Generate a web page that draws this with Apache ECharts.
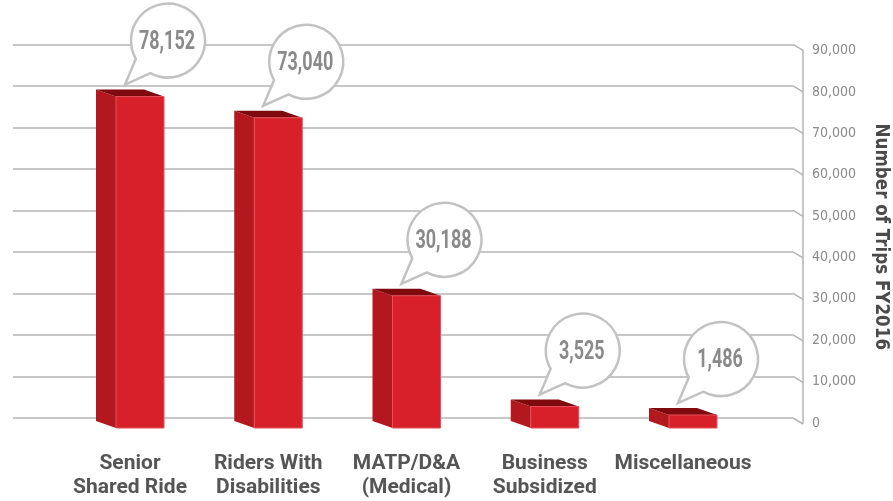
<!DOCTYPE html>
<html>
<head>
<meta charset="utf-8">
<script src="https://cdn.jsdelivr.net/npm/echarts@6/dist/echarts.min.js"></script>
<style>html,body{margin:0;padding:0;background:#fff;}#c{width:893px;height:501px;}</style>
</head>
<body>
<div id="c"></div>
<script>
// ---- data ----
const categories = ['Senior\nShared Ride', 'Riders With\nDisabilities', 'MATP/D&A\n(Medical)', 'Business\nSubsidized', 'Miscellaneous'];
const trips = [78152, 73040, 30188, 3525, 1486];
const tripLabels = ['78,152', '73,040', '30,188', '3,525', '1,486'];
const yTicks = [0, 10000, 20000, 30000, 40000, 50000, 60000, 70000, 80000, 90000];
const axisTitle = 'Number of Trips FY2016';

// ---- style / layout ----
const COND = '"DejaVu Sans Condensed", "Roboto", sans-serif';
const ROBOTO = 'Roboto, "Liberation Sans", sans-serif';
const GRID_COLOR = '#b4b4b4';
const FRONT = '#d8202b', SIDE = '#b3181f', TOP = '#7e0a0d';
const DX = 20, DY = 7;           // depth offset of bars
const HALF = 34;                  // half footprint width

const chart = echarts.init(document.getElementById('c'), null, {renderer: 'canvas'});

const option = {
  animation: false,
  grid: [
    {left: 13, right: 100, top: 44.3, bottom: 83, outerBoundsMode: 'none', containLabel: false},
    {left: 60.875, right: 140.875, top: 40.3, bottom: 86.8, outerBoundsMode: 'none', containLabel: false},
    {left: 13, right: 90, top: 50.5, bottom: 78, outerBoundsMode: 'none', containLabel: false}
  ],
  xAxis: [
    {gridIndex: 0, type: 'value', min: 0, max: 1, show: false},
    {gridIndex: 1, type: 'category', data: categories,
      axisLine: {show: false}, axisTick: {show: false},
      axisLabel: {margin: 38, color: '#555', fontFamily: ROBOTO, fontWeight: 'bold', fontSize: 21, lineHeight: 24, interval: 0}},
    {gridIndex: 2, type: 'value', min: 0, max: 1, show: false}
  ],
  yAxis: [
    {gridIndex: 0, type: 'value', min: 0, max: 90000, interval: 10000,
      axisLine: {show: false}, axisTick: {show: false}, axisLabel: {show: false},
      splitLine: {show: true, lineStyle: {color: GRID_COLOR, width: 1.5}}},
    {gridIndex: 1, type: 'value', min: 0, max: 90000, interval: 10000, show: false, splitLine: {show: false}},
    {gridIndex: 2, type: 'value', min: 0, max: 90000, interval: 10000, position: 'right',
      axisLine: {show: true, onZero: false, lineStyle: {color: GRID_COLOR, width: 1.5}},
      axisTick: {show: false}, splitLine: {show: false},
      axisLabel: {margin: 9, color: '#8a8a8a', fontFamily: COND, fontSize: 14, padding: [0, 0, 3, 0],
        formatter: v => v.toLocaleString('en-US')},
      name: axisTitle, nameLocation: 'middle', nameRotate: -90, nameGap: 68,
      nameTextStyle: {color: '#4a4a4a', fontFamily: COND, fontWeight: 'bold', fontSize: 18.6}}
  ],
  series: [
    {
      type: 'custom', xAxisIndex: 0, yAxisIndex: 0,
      data: yTicks.map(v => [1, v]),
      renderItem: (params, api) => {
        const p = api.coord([1, api.value(1)]);
        return {type: 'line', shape: {x1: p[0], y1: p[1], x2: p[0] + 10, y2: p[1] + 6},
          style: {stroke: GRID_COLOR, lineWidth: 1.5}};
      }
    },
    {
      type: 'custom', xAxisIndex: 1, yAxisIndex: 1,
      data: trips.map((v, i) => [i, v]),
      renderItem: (params, api) => {
        const top = api.coord([api.value(0), api.value(1)]);
        const base = api.coord([api.value(0), 0]);
        const c = top[0], yt = top[1], yb = base[1] + 6.8;
        const bl = c - HALF;
        return {type: 'group', children: [
          {type: 'polygon', shape: {points: [[bl, yt], [bl + DX, yt + DY], [bl + DX, yb + DY], [bl, yb]]},
            style: {fill: SIDE}},
          {type: 'polygon', shape: {points: [[bl, yt], [c + HALF - DX, yt], [c + HALF, yt + DY], [bl + DX, yt + DY]]},
            style: {fill: TOP}},
          {type: 'rect', shape: {x: bl + DX, y: yt + DY, width: 2 * HALF - DX, height: yb - yt},
            style: {fill: FRONT, stroke: '#e4505a', lineWidth: 1}}
        ]};
      }
    },
    {
      type: 'custom', xAxisIndex: 1, yAxisIndex: 1, z: 5,
      data: trips.map((v, i) => [i, v]),
      renderItem: (params, api) => {
        const i = params.dataIndex;
        const top = api.coord([api.value(0), api.value(1)]);
        const tx = top[0] - 5, ty = top[1] - 5;
        const cx = tx + 43, cy = ty - 44, r = 37;
        const dir = Math.atan2(ty - cy, tx - cx), w = 16 * Math.PI / 180;
        const p1 = [cx + r * Math.cos(dir + w), cy + r * Math.sin(dir + w)];
        const p2 = [cx + r * Math.cos(dir - w), cy + r * Math.sin(dir - w)];
        const d = `M ${p2[0]} ${p2[1]} A ${r} ${r} 0 1 0 ${p1[0]} ${p1[1]} L ${tx} ${ty} Z`;
        return {type: 'group', children: [
          {type: 'path', shape: {pathData: d}, style: {fill: '#fff', stroke: '#c2c2c2', lineWidth: 2.5}},
          {type: 'text', x: cx - 1, y: cy + 2, scaleX: 0.72,
            style: {text: tripLabels[i], x: 0, y: 0, align: 'center', verticalAlign: 'middle',
              fill: '#8a8a8a', font: 'bold 25px ' + ROBOTO}}
        ]};
      }
    }
  ]
};
chart.setOption(option);
</script>
</body>
</html>
